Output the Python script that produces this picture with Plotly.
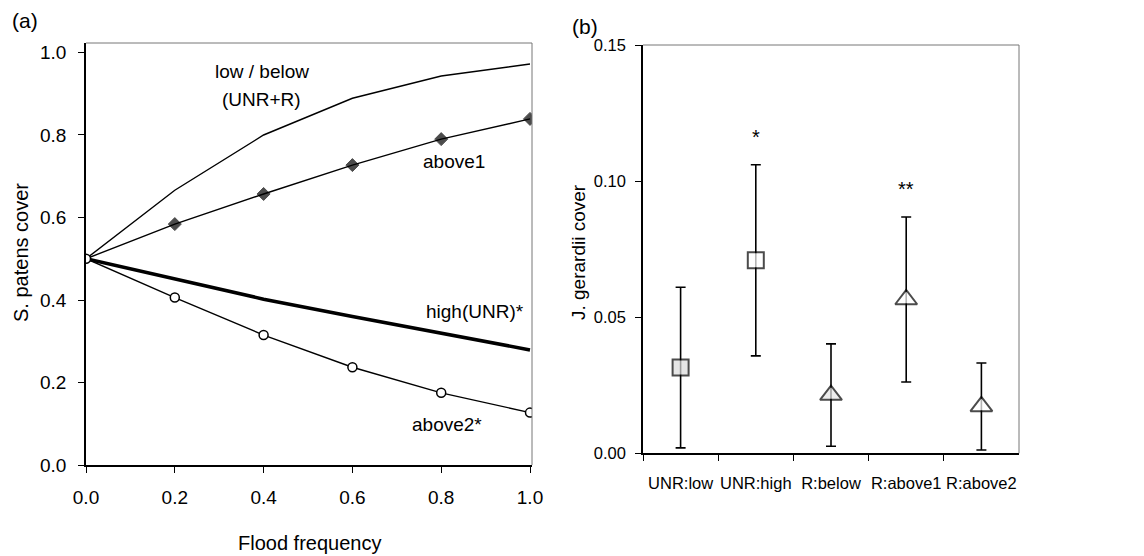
import plotly.graph_objects as go

# ---------------- data ----------------
flood_freq = [0.0, 0.2, 0.4, 0.6, 0.8, 1.0]
low_below = [0.50, 0.666, 0.800, 0.889, 0.943, 0.972]
above1 = [0.50, 0.584, 0.657, 0.727, 0.790, 0.839]
high_unr = [0.50, 0.450, 0.402, 0.360, 0.319, 0.279]
above2 = [0.50, 0.406, 0.315, 0.237, 0.175, 0.127]

groups = ["UNR:low", "UNR:high", "R:below", "R:above1", "R:above2"]
jg_mean = [0.0315, 0.0709, 0.0214, 0.0565, 0.0172]
jg_err = [0.0295, 0.0351, 0.0188, 0.0303, 0.0160]
signif = ["", "*", "", "**", ""]

FONT = "Liberation Sans, Arial, sans-serif"
W, H = 1144, 556

fig = go.Figure()

# ---------------- panel (a) ----------------
fig.add_trace(go.Scatter(x=flood_freq, y=low_below, mode="lines",
                         line=dict(color="black", width=1.4),
                         xaxis="x", yaxis="y", showlegend=False))
fig.add_trace(go.Scatter(x=flood_freq, y=high_unr, mode="lines",
                         line=dict(color="black", width=3.6),
                         xaxis="x", yaxis="y", showlegend=False))
fig.add_trace(go.Scatter(x=flood_freq, y=above1, mode="lines+markers",
                         line=dict(color="black", width=1.4),
                         marker=dict(symbol="diamond", color="black",
                                     size=[0, 10, 10, 10, 10, 10],
                                     line=dict(color="black", width=1)),
                         xaxis="x", yaxis="y", showlegend=False))
fig.add_trace(go.Scatter(x=flood_freq, y=above2, mode="lines+markers",
                         line=dict(color="black", width=1.4),
                         marker=dict(symbol="circle", color="white", size=9,
                                     line=dict(color="black", width=1.5)),
                         xaxis="x", yaxis="y", showlegend=False))

# ---------------- panel (b) ----------------
sym = ["square", "square", "triangle-up", "triangle-up", "triangle-up"]
fill = ["#dcdcdc", "white", "#e6e6e6", "white", "white"]
size = [16, 16, 19, 19, 19]
fig.add_trace(go.Scatter(x=groups, y=jg_mean, mode="markers",
                         error_y=dict(type="data", array=jg_err, visible=True,
                                      color="black", thickness=1.6, width=5),
                         marker=dict(symbol=sym, color=fill, size=size,
                                     line=dict(color="black", width=2)),
                         xaxis="x2", yaxis="y2", showlegend=False))


def px_x(a, b):
    return [a / W, b / W]


def px_y(top, bottom):
    return [(H - bottom) / H, (H - top) / H]


axis_common = dict(showline=True, linecolor="black", linewidth=1.5,
                   ticks="outside", ticklen=6, tickwidth=1.2, tickcolor="black",
                   showgrid=False, zeroline=False, automargin=False)
f19 = dict(family=FONT, size=19, color="black")
f17 = dict(family=FONT, size=16.5, color="black")

fig.update_layout(
    template="none",
    width=W, height=H,
    margin=dict(l=0, r=0, t=0, b=0, pad=0),
    paper_bgcolor="white", plot_bgcolor="white",
    font=dict(family=FONT, size=19, color="black"),
    xaxis=dict(domain=px_x(86, 532), range=[0, 1.0045],
               tickvals=[0, 0.2, 0.4, 0.6, 0.8, 1.0], tickformat=".1f",
               ticklabelstandoff=8, anchor="y", tickfont=f19, **axis_common),
    yaxis=dict(domain=px_y(43, 465), range=[0, 1.023],
               tickvals=[0, 0.2, 0.4, 0.6, 0.8, 1.0], tickformat=".1f",
               ticklabelstandoff=8, anchor="x", tickfont=f19, **axis_common),
    xaxis2=dict(domain=px_x(643, 1019), type="category", range=[-0.5, 4.5],
                tickson="boundaries", ticklabelstandoff=14, anchor="y2", tickangle=0,
                tickfont=f17, **axis_common),
    yaxis2=dict(domain=px_y(45, 453.3), range=[0, 0.15],
                tickvals=[0, 0.05, 0.10, 0.15], tickformat=".2f",
                ticklabelstandoff=6, anchor="x2", tickfont=f17, **axis_common),
)

# top/right frame lines (light)
for xr, yr in [("x", "y"), ("x2", "y2")]:
    fig.add_shape(type="line", xref=f"{xr} domain", yref=f"{yr} domain",
                  x0=0, x1=1, y0=1, y1=1, line=dict(color="#777", width=1))
    fig.add_shape(type="line", xref=f"{xr} domain", yref=f"{yr} domain",
                  x0=1, x1=1, y0=0, y1=1, line=dict(color="#777", width=1))

# annotations panel (a)
for txt, x, y in [("low / below", 0.396, 0.953), ("(UNR+R)", 0.396, 0.885),
                  ("above1", 0.829, 0.735), ("high(UNR)*", 0.876, 0.371),
                  ("above2*", 0.813, 0.097)]:
    fig.add_annotation(x=x, y=y, xref="x", yref="y", text=txt, showarrow=False,
                       xanchor="center", yanchor="middle", font=f19)

# significance stars panel (b)
for g, m, e, s in zip(groups, jg_mean, jg_err, signif):
    if s:
        fig.add_annotation(x=g, y=m + e, xref="x2", yref="y2", text=s,
                           showarrow=False, yshift=28, xanchor="center",
                           font=dict(family=FONT, size=20, color="black"))

# titles and panel labels
paper_txt = [
    ("Flood frequency", 309, 543, 0, 20),
    ("S. patens cover", 21, 253, -90, 20),
    ("J. gerardii cover", 578, 252, -90, 19),
    ("(a)", 25, 20, 0, 21),
    ("(b)", 585, 26, 0, 21),
]
for txt, px, py, ang, fs in paper_txt:
    fig.add_annotation(x=px / W, y=1 - py / H, xref="paper", yref="paper",
                       text=txt, showarrow=False, textangle=ang,
                       xanchor="center", yanchor="middle",
                       font=dict(family=FONT, size=fs, color="black"))

fig.write_html("out.html")
